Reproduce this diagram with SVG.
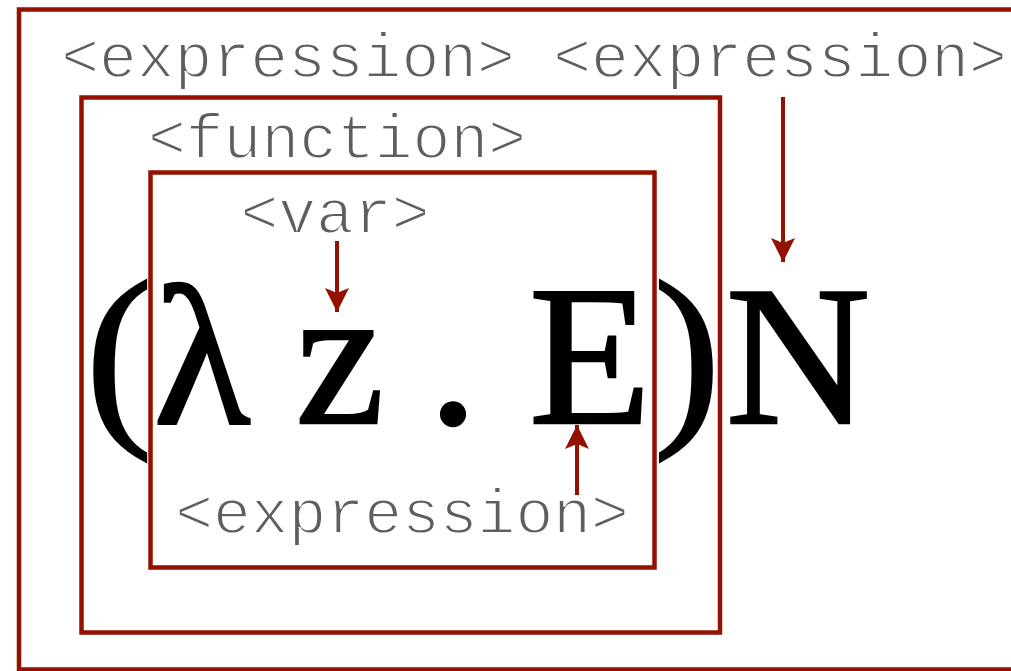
<svg xmlns="http://www.w3.org/2000/svg" width="1011" height="671" viewBox="0 0 1011 671">
  <style>
    .frame { fill: none; stroke: #941100; stroke-width: 4.5; }
    /* white outline trims the monospace strokes to a lighter weight */
    .label { font-family: "Liberation Mono", "Courier New", monospace; font-size: 63px; fill: #5e5e5e; stroke: #fff; stroke-width: 1.8; text-anchor: middle; }
    .term { font-family: "Liberation Serif", "Times New Roman", serif; font-size: 200px; fill: #000; stroke: #000; stroke-width: 2.5; text-anchor: middle; }
    .link { stroke: #941100; stroke-width: 4; fill: none; }
  </style>
  <defs>
    <marker id="head" viewBox="0 0 26 24" refX="24" refY="12" markerWidth="26" markerHeight="24" markerUnits="userSpaceOnUse" orient="auto">
      <path d="M0,0 L24,12 L0,24 L5,12 Z" fill="#941100"/>
    </marker>
  </defs>
  <rect width="1011" height="671" fill="#fff"/>

  <!-- application: (λz.E)N -->
  <g id="application">
    <rect class="frame" x="19" y="9.5" width="1000" height="660"/>
    <text class="label" x="288" y="77">&lt;expression&gt;</text>
    <text class="label" x="780" y="77">&lt;expression&gt;</text>
  </g>

  <!-- lambda abstraction -->
  <g id="function">
    <rect class="frame" x="81.5" y="97.5" width="638.5" height="535"/>
    <text class="label" x="337" y="158">&lt;function&gt;</text>
  </g>

  <!-- the term itself -->
  <g id="term">
    <text class="term" x="119" y="419">(</text>
    <text class="term" x="687" y="419">)</text>
    <text class="term" x="798" y="423">N</text>
  </g>

  <!-- body of the abstraction -->
  <g id="body">
    <rect class="frame" x="150.5" y="172.5" width="504" height="395" stroke-width="4"/>
    <text class="label" x="335" y="233">&lt;var&gt;</text>
    <text class="label" x="402" y="533">&lt;expression&gt;</text>
    <text class="term" x="202" y="423">λ</text>
    <text class="term" x="340" y="423">z</text>
    <text class="term" x="453" y="423">.</text>
    <text class="term" x="590" y="423">E</text>
  </g>

  <g id="connectors">
    <line class="link" x1="337" y1="241" x2="337" y2="312" marker-end="url(#head)"/>
    <line class="link" x1="783" y1="97" x2="783" y2="262" marker-end="url(#head)"/>
    <line class="link" x1="577" y1="495" x2="577" y2="425" marker-end="url(#head)"/>
  </g>
</svg>
